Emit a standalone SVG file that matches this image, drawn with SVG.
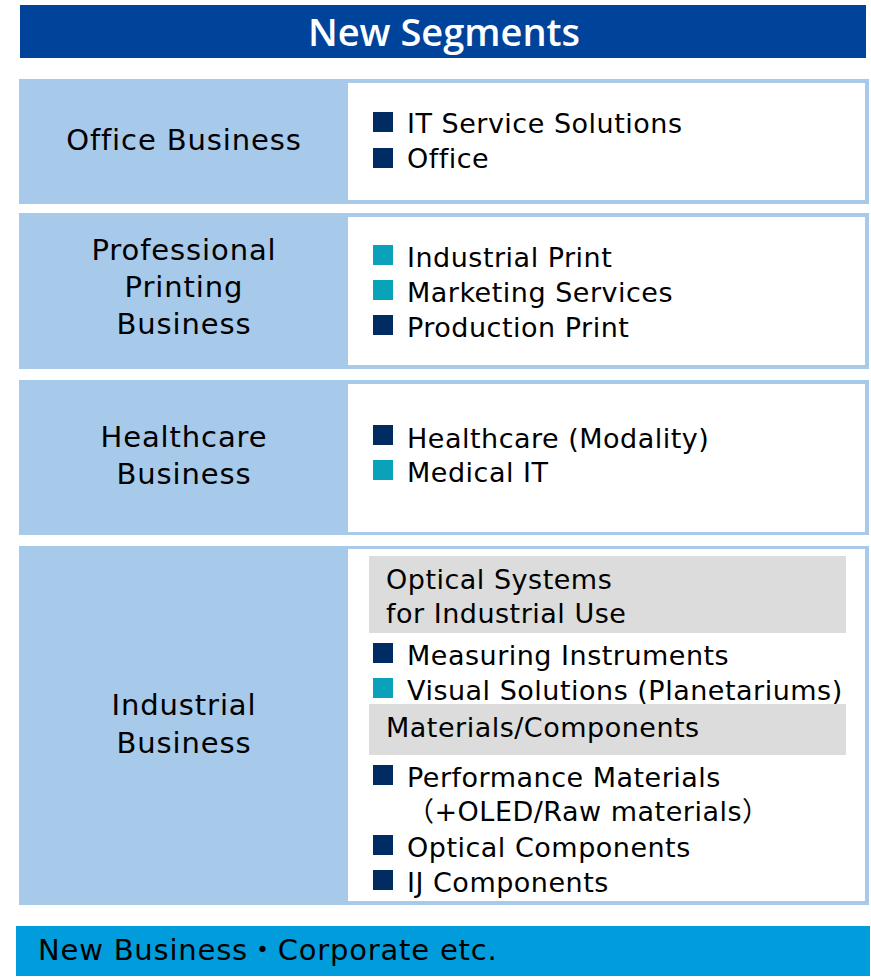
<svg xmlns="http://www.w3.org/2000/svg" width="871" height="977" viewBox="0 0 871 977">
<style>
.row{fill:#a7c9ea}
.panel{fill:#ffffff}
.gray{fill:#dbdcdb}
.lbl{font-family:"DejaVu Sans","Noto Sans CJK JP",sans-serif;font-size:29px;fill:#000;text-anchor:middle;letter-spacing:0.9px}
.it{font-family:"DejaVu Sans","Noto Sans CJK JP",sans-serif;font-size:27px;fill:#000;letter-spacing:0.5px}
.navy{fill:#002b63}
.teal{fill:#0aa2b9}
</style>
<rect width="871" height="977" fill="#ffffff"/>
<g id="title">
<rect x="20" y="5" width="846" height="53" fill="#00439b"/>
<text x="444" y="46" font-family="'Open Sans','Liberation Sans',sans-serif" font-weight="600" font-size="38" fill="#ffffff" text-anchor="middle">New Segments</text>
</g>
<g id="office">
<rect class="row" x="19" y="79" width="850" height="125"/>
<rect class="panel" x="348" y="83" width="517" height="117"/>
<text class="lbl" x="184" y="150">Office Business</text>
<rect class="navy" x="373" y="112" width="20" height="20"/>
<text class="it" x="407" y="133">IT Service Solutions</text>
<rect class="navy" x="373" y="148" width="20" height="20"/>
<text class="it" x="407" y="168">Office</text>
</g>
<g id="printing">
<rect class="row" x="19" y="213" width="850" height="156"/>
<rect class="panel" x="348" y="217" width="517" height="148"/>
<text class="lbl" x="184" y="260">Professional</text>
<text class="lbl" x="184" y="297">Printing</text>
<text class="lbl" x="184" y="334">Business</text>
<rect class="teal" x="373" y="245" width="20" height="20"/>
<text class="it" x="407" y="267">Industrial Print</text>
<rect class="teal" x="373" y="280" width="20" height="20"/>
<text class="it" x="407" y="302">Marketing Services</text>
<rect class="navy" x="373" y="315" width="20" height="20"/>
<text class="it" x="407" y="337">Production Print</text>
</g>
<g id="healthcare">
<rect class="row" x="19" y="380" width="850" height="155"/>
<rect class="panel" x="348" y="384" width="517" height="148"/>
<text class="lbl" x="184" y="447">Healthcare</text>
<text class="lbl" x="184" y="484">Business</text>
<rect class="navy" x="373" y="425" width="20" height="20"/>
<text class="it" x="407" y="448">Healthcare (Modality)</text>
<rect class="teal" x="373" y="460" width="20" height="20"/>
<text class="it" x="407" y="482">Medical IT</text>
</g>
<g id="industrial">
<rect class="row" x="19" y="546" width="850" height="359"/>
<rect class="panel" x="348" y="549" width="517" height="352"/>
<text class="lbl" x="184" y="715">Industrial</text>
<text class="lbl" x="184" y="753">Business</text>
<rect class="gray" x="369" y="556" width="477" height="77"/>
<text class="it" x="386" y="589">Optical Systems</text>
<text class="it" x="386" y="623">for Industrial Use</text>
<rect class="navy" x="373" y="643" width="20" height="20"/>
<text class="it" x="407" y="665">Measuring Instruments</text>
<rect class="teal" x="373" y="678" width="20" height="20"/>
<text class="it" x="407" y="700">Visual Solutions (Planetariums)</text>
<rect class="gray" x="369" y="704" width="477" height="51"/>
<text class="it" x="386" y="737">Materials/Components</text>
<rect class="navy" x="373" y="765" width="20" height="20"/>
<text class="it" x="407" y="787">Performance Materials</text>
<text class="it" x="407" y="821">（+OLED/Raw materials）</text>
<rect class="navy" x="373" y="835" width="20" height="20"/>
<text class="it" x="407" y="857">Optical Components</text>
<rect class="navy" x="373" y="870" width="20" height="20"/>
<text class="it" x="407" y="892">IJ Components</text>
</g>
<g id="newbusiness">
<rect x="16" y="926" width="854" height="50" fill="#009cdb"/>
<text x="38" y="960" font-family="'DejaVu Sans','Noto Sans CJK JP',sans-serif" font-size="29" letter-spacing="0.8" fill="#000">New Business・Corporate etc.</text>
</g>
<g id="connectors"></g>
</svg>
